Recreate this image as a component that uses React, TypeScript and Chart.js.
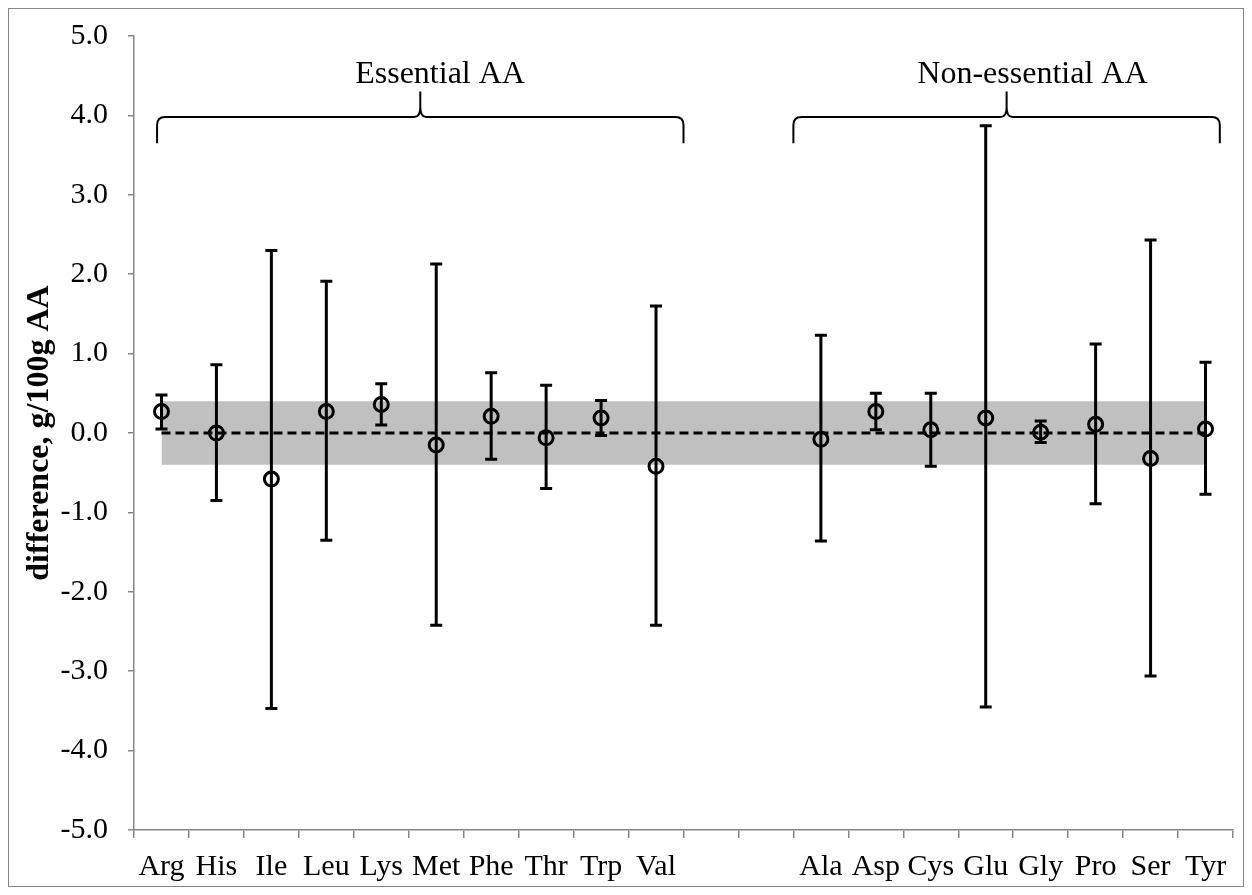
import React, { useEffect, useRef } from "react";
import { Chart, registerables } from "chart.js";

Chart.register(...registerables);

const categories = ["Arg", "His", "Ile", "Leu", "Lys", "Met", "Phe", "Thr", "Trp", "Val", "", "", "Ala", "Asp", "Cys", "Glu", "Gly", "Pro", "Ser", "Tyr"];
const means = [0.27, 0.0, -0.58, 0.27, 0.36, -0.15, 0.21, -0.06, 0.19, -0.42, null, null, -0.08, 0.27, 0.04, 0.19, 0.01, 0.11, -0.32, 0.05];
const upperErr = [0.48, 0.86, 2.3, 1.91, 0.62, 2.13, 0.76, 0.6, 0.41, 1.6, null, null, 1.23, 0.5, 0.5, 3.87, 0.15, 1.12, 2.43, 0.89];
const lowerErr = [0.05, -0.85, -3.47, -1.35, 0.1, -2.42, -0.33, -0.7, -0.03, -2.42, null, null, -1.36, 0.04, -0.42, -3.45, -0.12, -0.89, -3.06, -0.77];
const zeroLine = [0, 0, 0, 0, 0, 0, 0, 0, 0, 0, 0, 0, 0, 0, 0, 0, 0, 0, 0, 0];
const bandLow = [-0.4, -0.4, -0.4, -0.4, -0.4, -0.4, -0.4, -0.4, -0.4, -0.4, -0.4, -0.4, -0.4, -0.4, -0.4, -0.4, -0.4, -0.4, -0.4, -0.4];
const bandHigh = [0.4, 0.4, 0.4, 0.4, 0.4, 0.4, 0.4, 0.4, 0.4, 0.4, 0.4, 0.4, 0.4, 0.4, 0.4, 0.4, 0.4, 0.4, 0.4, 0.4];
const groupLabels = ["Essential AA", "Non-essential AA"];
// brace spans in category-index units: [left, peak, right, textCenter]
const groupSpans = [
  [-0.08, 4.71, 9.5, 5.07],
  [11.5, 15.38, 19.26, 15.85],
];
const yTicks = [-5, -4, -3, -2, -1, 0, 1, 2, 3, 4, 5];

const FONT = '"Liberation Serif", "Times New Roman", serif';
const AXIS_COLOR = "#868686";

const errorBarPlugin = {
  id: "errorBars",
  afterDatasetsDraw(chart: any) {
    const { ctx, scales } = chart;
    const x = scales.x;
    const y = scales.y;
    ctx.save();
    ctx.strokeStyle = "#000";
    ctx.lineWidth = 3;
    ctx.lineCap = "butt";
    for (let i = 0; i < categories.length; i++) {
      const hi = upperErr[i];
      const lo = lowerErr[i];
      if (hi == null || lo == null) continue;
      const px = x.getPixelForValue(i);
      const pHi = y.getPixelForValue(hi);
      const pLo = y.getPixelForValue(lo);
      ctx.beginPath();
      ctx.moveTo(px, pHi);
      ctx.lineTo(px, pLo);
      ctx.moveTo(px - 6, pHi);
      ctx.lineTo(px + 6, pHi);
      ctx.moveTo(px - 6, pLo);
      ctx.lineTo(px + 6, pLo);
      ctx.stroke();
    }
    ctx.restore();
  },
};

const bracePlugin = {
  id: "braces",
  afterDraw(chart: any) {
    const { ctx, scales } = chart;
    const x = scales.x;
    const y = scales.y;
    ctx.save();
    ctx.strokeStyle = "#000";
    ctx.lineWidth = 2;
    ctx.fillStyle = "#000";
    const yLine = y.getPixelForValue(3.98);
    const yEnd = y.getPixelForValue(3.65);
    const yPeak = y.getPixelForValue(4.3);
    const yText = y.getPixelForValue(4.41);
    groupSpans.forEach((span, k) => {
      const xl = x.getPixelForValue(span[0]);
      const xp = x.getPixelForValue(span[1]);
      const xr = x.getPixelForValue(span[2]);
      const xt = x.getPixelForValue(span[3]);
      const r = 8;
      ctx.beginPath();
      ctx.moveTo(xl, yEnd);
      ctx.lineTo(xl, yLine + r);
      ctx.quadraticCurveTo(xl, yLine, xl + r, yLine);
      ctx.lineTo(xp - 6, yLine);
      ctx.quadraticCurveTo(xp, yLine, xp, yLine - 10);
      ctx.lineTo(xp, yPeak);
      ctx.moveTo(xp, yLine - 10);
      ctx.quadraticCurveTo(xp, yLine, xp + 6, yLine);
      ctx.lineTo(xr - r, yLine);
      ctx.quadraticCurveTo(xr, yLine, xr, yLine + r);
      ctx.lineTo(xr, yEnd);
      ctx.stroke();
      ctx.font = `32px ${FONT}`;
      ctx.textAlign = "center";
      ctx.textBaseline = "alphabetic";
      ctx.fillText(groupLabels[k], xt, yText);
    });
    ctx.restore();
  },
};

export default function App() {
  const ref = useRef<HTMLCanvasElement | null>(null);
  useEffect(() => {
    if (!ref.current) return;
    const chart = new Chart(ref.current, {
      type: "line",
      data: {
        labels: categories,
        datasets: [
          {
            label: "mean",
            data: means as any,
            showLine: false,
            pointStyle: "circle",
            pointRadius: 7,
            pointBorderWidth: 3,
            pointBorderColor: "#000",
            pointBackgroundColor: "rgba(0,0,0,0)",
            borderColor: "#000",
            order: 0,
          },
          {
            label: "zero",
            data: zeroLine,
            borderColor: "#000",
            borderWidth: 3,
            borderDash: [9, 5],
            pointRadius: 0,
            fill: false,
            order: 1,
          },
          {
            label: "bandLow",
            data: bandLow,
            borderWidth: 0,
            borderColor: "rgba(0,0,0,0)",
            pointRadius: 0,
            fill: false,
            order: 3,
          },
          {
            label: "bandHigh",
            data: bandHigh,
            borderWidth: 0,
            borderColor: "rgba(0,0,0,0)",
            backgroundColor: "#C0C0C0",
            pointRadius: 0,
            fill: "-1",
            order: 2,
          },
        ],
      },
      options: {
        animation: false,
        responsive: false,
        layout: { padding: { left: 0, top: 27, right: 7, bottom: 0 } },
        plugins: {
          legend: { display: false },
          tooltip: { enabled: false },
        },
        scales: {
          x: {
            type: "category",
            offset: true,
            grid: {
              offset: true,
              drawOnChartArea: false,
              drawTicks: true,
              tickLength: 8,
              color: AXIS_COLOR,
              lineWidth: 1.5,
            },
            border: { display: true, color: AXIS_COLOR, width: 1.5 },
            ticks: {
              autoSkip: false,
              maxRotation: 0,
              minRotation: 0,
              padding: 11,
              color: "#000",
              font: { family: FONT, size: 30 },
            },
            afterFit(scale: any) {
              scale.height = 56;
              scale.paddingLeft = 0;
              scale.paddingRight = 0;
            },
          },
          y: {
            min: -5,
            max: 5,
            afterBuildTicks(scale: any) {
              scale.ticks = yTicks.map((v) => ({ value: v }));
            },
            grid: {
              drawOnChartArea: false,
              drawTicks: true,
              tickLength: 6,
              color: AXIS_COLOR,
              lineWidth: 1.5,
            },
            border: { display: true, color: AXIS_COLOR, width: 1.5 },
            ticks: {
              padding: 20,
              color: "#000",
              font: { family: FONT, size: 30 },
              callback: (v: any) => Number(v).toFixed(1),
            },
            title: {
              display: true,
              text: "difference, g/100g AA",
              color: "#000",
              font: { family: FONT, size: 32, weight: "bold" },
              padding: { top: 12, bottom: 0 },
            },
            afterFit(scale: any) {
              scale.width = 125;
              scale.paddingTop = 0;
              scale.paddingBottom = 0;
            },
          },
        },
      },
      plugins: [errorBarPlugin, bracePlugin],
    });
    return () => chart.destroy();
  }, []);
  return (
    <div style={{ width: 1234, height: 877, border: `1px solid ${AXIS_COLOR}` }}>
      <canvas ref={ref} width={1234} height={877} style={{ display: "block" }} />
    </div>
  );
}
